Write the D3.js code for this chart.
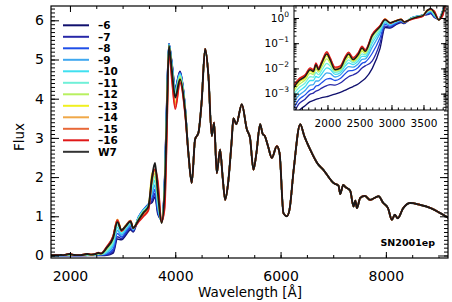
<!DOCTYPE html>
<html>
<head>
<meta charset="utf-8">
<script src="https://cdn.jsdelivr.net/npm/d3@7"></script>
<style>
body{margin:0;background:#fff;}
text{font-family:"DejaVu Sans",sans-serif;fill:#000;}
</style>
</head>
<body>
<svg id="chart" width="452" height="302"></svg>
<script>
// model names, legend text and colours
var models = ["-6","-7","-8","-9","-10","-11","-12","-13","-14","-15","-16","W7"];
var legendText = ["\u20136","\u20137","\u20138","\u20139","\u201310","\u201311","\u201312","\u201313","\u201314","\u201315","\u201316","W7"];
var colors = ["#10106e","#2828a8","#1f4fe8","#3fa8f0","#40e0f0","#70f0d8","#b8f060","#f0f020","#f0a848","#e86838","#e01818","#1a1a1a"];

// UV part, log10 flux
var uvWave = [1450,1550,1650,1730,1780,1820,1860,1910,1990,2040,2120,2200,2280,2330,2400,2480,2540,2590];
var uvM6  = [-4.20,-3.70,-3.48,-3.32,-3.27,-3.23,-3.20,-3.16,-3.12,-3.08,-3.02,-2.95,-2.86,-2.80,-2.72,-2.62,-2.50,-2.40];
var uvM7  = [-3.95,-3.42,-3.22,-3.02,-2.98,-2.90,-2.86,-2.78,-2.68,-2.64,-2.66,-2.58,-2.42,-2.33,-2.26,-2.14,-1.98,-1.90];
var uvM8  = [-3.70,-3.25,-3.05,-2.86,-2.82,-2.70,-2.67,-2.57,-2.42,-2.40,-2.48,-2.40,-2.20,-2.10,-2.08,-1.96,-1.80,-1.75];
var uvM9  = [-3.45,-3.08,-2.88,-2.66,-2.64,-2.50,-2.50,-2.38,-2.18,-2.20,-2.34,-2.26,-2.03,-1.93,-1.95,-1.82,-1.64,-1.62];
var uvM10 = [-3.25,-2.92,-2.72,-2.48,-2.48,-2.32,-2.36,-2.22,-1.98,-2.03,-2.24,-2.17,-1.90,-1.78,-1.85,-1.71,-1.52,-1.53];
var uvM11 = [-3.10,-2.78,-2.58,-2.33,-2.35,-2.16,-2.25,-2.08,-1.80,-1.90,-2.16,-2.10,-1.80,-1.66,-1.78,-1.63,-1.42,-1.46];
var uvM12 = [-2.98,-2.65,-2.46,-2.20,-2.24,-2.02,-2.15,-1.95,-1.62,-1.78,-2.10,-2.05,-1.70,-1.55,-1.72,-1.56,-1.32,-1.40];
var uvM13 = [-2.90,-2.56,-2.38,-2.12,-2.17,-1.93,-2.09,-1.86,-1.50,-1.70,-2.06,-2.01,-1.63,-1.48,-1.68,-1.50,-1.25,-1.35];
var uvM14 = [-2.82,-2.48,-2.31,-2.04,-2.10,-1.84,-2.03,-1.78,-1.40,-1.62,-2.01,-1.96,-1.57,-1.41,-1.63,-1.43,-1.18,-1.30];
var uvM15 = [-2.78,-2.45,-2.28,-2.01,-2.08,-1.81,-2.00,-1.75,-1.37,-1.59,-1.98,-1.93,-1.54,-1.38,-1.60,-1.40,-1.15,-1.28];
var uvM16 = [-2.75,-2.42,-2.25,-1.98,-2.05,-1.78,-1.97,-1.72,-1.34,-1.56,-1.95,-1.90,-1.51,-1.35,-1.57,-1.37,-1.12,-1.25];
var uvW7  = [-2.85,-2.50,-2.32,-2.05,-2.12,-1.85,-2.05,-1.79,-1.43,-1.65,-2.05,-1.99,-1.59,-1.43,-1.65,-1.45,-1.19,-1.32];

// near-UV / blue part, flux
var visWave = [2700,2820,2900,2980,3060,3150,3200,3300,3400,3490,3560,3615,3670,3740,3800,3840,3880,3933,4000,4090,4190];
var visM6  = [0.01,0.06,0.42,0.40,0.52,0.66,0.60,0.95,1.15,1.30,1.35,1.50,1.05,0.92,2.00,4.00,5.40,4.95,4.30,4.70,3.75];
var visM7  = [0.02,0.10,0.48,0.43,0.56,0.70,0.62,0.97,1.17,1.31,1.40,1.58,1.10,0.91,1.98,3.95,5.40,4.93,4.28,4.68,3.74];
var visM8  = [0.04,0.16,0.56,0.47,0.60,0.74,0.64,0.98,1.18,1.31,1.48,1.68,1.15,0.90,1.95,3.90,5.40,4.92,4.25,4.66,3.73];
var visM9  = [0.07,0.24,0.64,0.52,0.65,0.78,0.66,0.97,1.17,1.30,1.58,1.80,1.22,0.88,1.92,3.85,5.39,4.90,4.22,4.64,3.72];
var visM10 = [0.10,0.30,0.72,0.56,0.69,0.82,0.68,0.96,1.16,1.29,1.68,1.92,1.30,0.87,1.88,3.80,5.38,4.88,4.18,4.62,3.71];
var visM11 = [0.13,0.36,0.79,0.60,0.72,0.85,0.69,0.94,1.14,1.28,1.78,2.02,1.40,0.86,1.84,3.75,5.37,4.85,4.13,4.60,3.70];
var visM12 = [0.17,0.42,0.86,0.63,0.75,0.87,0.70,0.92,1.12,1.26,1.88,2.10,1.50,0.85,1.78,3.65,5.35,4.80,4.05,4.56,3.68];
var visM13 = [0.20,0.47,0.92,0.65,0.77,0.88,0.71,0.90,1.09,1.23,2.10,2.15,1.62,0.84,1.65,3.50,5.33,4.72,3.90,4.50,3.64];
var visM14 = [0.21,0.48,0.92,0.65,0.77,0.89,0.71,0.88,1.06,1.20,2.05,2.18,1.72,0.84,1.50,3.35,5.30,4.65,3.85,4.46,3.61];
var visM15 = [0.22,0.49,0.91,0.64,0.76,0.89,0.70,0.87,1.03,1.17,2.00,2.20,1.82,0.85,1.35,3.15,5.25,4.58,3.78,4.42,3.58];
var visM16 = [0.23,0.50,0.90,0.62,0.75,0.88,0.70,0.85,1.00,1.15,1.95,2.20,1.90,0.86,1.20,3.00,5.20,4.50,3.73,4.40,3.55];
var visW7  = [0.20,0.45,0.85,0.65,0.75,0.87,0.70,0.90,1.10,1.25,2.00,2.36,1.60,0.83,1.70,3.60,5.35,4.76,4.03,4.50,3.65];

// red part, same for all models
var tailWave = [4250,4313,4376,4440,4500,4567,4630,4693,4738,4789,4851,4900,4947,5000,5070,5104,5160,5264,5359,5420,
  5485,5540,5612,5660,5700,5760,5834,5929,5980,6055,6119,6170,6250,6373,6450,6563,6700,6810,7006,7101,
  7133,7190,7228,7323,7386,7420,7450,7513,7600,7700,7861,7950,8040,8114,8170,8224,8330,8464,8654,8850,9034,9200];
var tailFlux = [2.6,1.85,2.96,3.13,3.9,5.27,4.58,3.05,3.39,2.1,2.7,2.0,1.42,1.8,2.9,3.5,3.35,3.86,3.22,3.0,
  2.19,2.6,3.35,3.1,3.05,2.8,2.49,2.79,2.62,1.08,1.0,1.17,2.2,3.35,3.05,2.7,2.35,2.19,1.85,1.78,
  1.57,1.8,1.75,1.65,1.25,1.4,1.21,1.47,1.52,1.42,1.51,1.34,1.21,0.91,1.04,0.95,1.21,1.34,1.29,1.21,1.08,0.95];

var xTicks = [2000,4000,6000,8000];
var yTicks = [0,1,2,3,4,5,6];
var insetXTicks = [2000,2500,3000,3500];
var insetYTicks = [0,-1,-2,-3];

var uvRows = [uvM6,uvM7,uvM8,uvM9,uvM10,uvM11,uvM12,uvM13,uvM14,uvM15,uvM16,uvW7];
var visRows = [visM6,visM7,visM8,visM9,visM10,visM11,visM12,visM13,visM14,visM15,visM16,visW7];

var series = models.map(function(m, k){
    var pts = [];
    uvWave.forEach(function(w, i){ pts.push([w, Math.pow(10, uvRows[k][i])]); });
    visWave.forEach(function(w, i){ pts.push([w, visRows[k][i]]); });
    tailWave.forEach(function(w, i){ pts.push([w, tailFlux[i]]); });
    return pts;
});

var svg = d3.select("#chart");
var L = 51, R = 448, T = 6, B = 258;

var x = d3.scaleLinear().domain([1640, 9180]).range([L, R]);
var y = d3.scaleLinear().domain([-0.064, 6.365]).range([B, T]);

svg.append("clipPath").attr("id","clipMain").append("rect")
    .attr("x", L).attr("y", T).attr("width", R-L).attr("height", B-T);

var line = d3.line().curve(d3.curveMonotoneX)
    .x(function(d){ return x(d[0]); })
    .y(function(d){ return y(d[1]); });

// W7 is drawn last and a bit wider, so it sits on top
svg.append("g").attr("clip-path","url(#clipMain)")
    .selectAll("path").data(series).enter().append("path")
    .attr("d", line)
    .attr("fill","none")
    .attr("stroke", function(d,i){ return colors[i]; })
    .attr("stroke-width", function(d,i){ return i == 11 ? 1.9 : 1.6; })
    .attr("stroke-linejoin","round");

// axes, ticks pointing inward on all four sides
function styleAxis(g){
    g.select(".domain").remove();
    g.selectAll(".tick line").attr("stroke","#000").attr("stroke-width",1);
}

svg.append("g").attr("transform","translate(0,"+B+")")
    .call(d3.axisBottom(x).tickValues(d3.range(2000, 9200, 500)).tickSize(-3).tickFormat(""))
    .call(styleAxis);
svg.append("g").attr("transform","translate(0,"+B+")")
    .call(d3.axisBottom(x).tickValues(xTicks).tickSize(-6).tickPadding(13).tickFormat(d3.format("d")))
    .call(styleAxis)
    .selectAll("text").attr("font-size", 14);
svg.append("g").attr("transform","translate(0,"+T+")")
    .call(d3.axisTop(x).tickValues(d3.range(2000, 9200, 500)).tickSize(-3).tickFormat(""))
    .call(styleAxis);
svg.append("g").attr("transform","translate(0,"+T+")")
    .call(d3.axisTop(x).tickValues(xTicks).tickSize(-6).tickFormat(""))
    .call(styleAxis);

var yMinor = d3.range(0, 64).map(function(i){ return i/10; });
svg.append("g").attr("transform","translate("+L+",0)")
    .call(d3.axisLeft(y).tickValues(yMinor).tickSize(-4).tickFormat(""))
    .call(styleAxis);
svg.append("g").attr("transform","translate("+L+",0)")
    .call(d3.axisLeft(y).tickValues(yTicks).tickSize(-8).tickPadding(7).tickFormat(d3.format("d")))
    .call(styleAxis)
    .selectAll("text").attr("font-size", 14);
svg.append("g").attr("transform","translate("+R+",0)")
    .call(d3.axisRight(y).tickValues(yMinor).tickSize(-4).tickFormat(""))
    .call(styleAxis);
svg.append("g").attr("transform","translate("+R+",0)")
    .call(d3.axisRight(y).tickValues(yTicks).tickSize(-8).tickFormat(""))
    .call(styleAxis);

svg.append("rect").attr("x", L).attr("y", T).attr("width", R-L).attr("height", B-T)
    .attr("fill","none").attr("stroke","#000").attr("stroke-width",1.2);

svg.append("text").attr("x", 250).attr("y", 297).attr("text-anchor","middle")
    .attr("font-size", 13.5).text("Wavelength [\u00c5]");
svg.append("text").attr("transform","translate(24,137) rotate(-90)").attr("text-anchor","middle")
    .attr("font-size", 13.5).text("Flux");

svg.append("text").attr("x", 435).attr("y", 246).attr("text-anchor","end")
    .attr("font-size", 9.5).attr("font-weight","bold").text("SN2001ep");

// legend
var leg = svg.append("g");
models.forEach(function(m, i){
    var ly = 25.3 + i*11.5;
    leg.append("line").attr("x1", 63).attr("x2", 89).attr("y1", ly).attr("y2", ly)
        .attr("stroke", i == 11 ? "#333" : colors[i]).attr("stroke-width", 2);
    leg.append("text").attr("x", 98).attr("y", ly).attr("dy","0.36em")
        .attr("font-size", 10.5).attr("font-weight","bold").text(legendText[i]);
});

// inset, log flux in the UV
var iL = 294, iR = 446, iT = 6, iB = 110;
var xi = d3.scaleLinear().domain([1477, 3852]).range([iL, iR]);
var yi = d3.scaleLog().domain([Math.pow(10,-3.65), Math.pow(10,0.476)]).range([iB, iT]);

svg.append("rect").attr("x", iL).attr("y", iT).attr("width", iR-iL).attr("height", iB-iT).attr("fill","#fff");
svg.append("clipPath").attr("id","clipInset").append("rect")
    .attr("x", iL).attr("y", iT).attr("width", iR-iL).attr("height", iB-iT);

var lineInset = d3.line().curve(d3.curveMonotoneX)
    .x(function(d){ return xi(d[0]); })
    .y(function(d){ return yi(d[1]); });

svg.append("g").attr("clip-path","url(#clipInset)")
    .selectAll("path").data(series).enter().append("path")
    .attr("d", lineInset)
    .attr("fill","none")
    .attr("stroke", function(d,i){ return colors[i]; })
    .attr("stroke-width", function(d,i){ return i == 11 ? 1.5 : 1.3; })
    .attr("stroke-linejoin","round");

var iMinorX = d3.range(1500, 3900, 100);
svg.append("g").attr("transform","translate(0,"+iB+")")
    .call(d3.axisBottom(xi).tickValues(iMinorX).tickSize(-2.5).tickFormat(""))
    .call(styleAxis);
svg.append("g").attr("transform","translate(0,"+iB+")")
    .call(d3.axisBottom(xi).tickValues(insetXTicks).tickSize(-5).tickPadding(9.5).tickFormat(d3.format("d")))
    .call(styleAxis)
    .selectAll("text").attr("font-size", 10.5);
svg.append("g").attr("transform","translate(0,"+iT+")")
    .call(d3.axisTop(xi).tickValues(iMinorX).tickSize(-2.5).tickFormat(""))
    .call(styleAxis);
svg.append("g").attr("transform","translate(0,"+iT+")")
    .call(d3.axisTop(xi).tickValues(insetXTicks).tickSize(-5).tickFormat(""))
    .call(styleAxis);

var iMinorY = [];
[-4,-3,-2,-1,0].forEach(function(e){
    for (var k = 1; k < 10; k++) iMinorY.push(k*Math.pow(10, e));
});
iMinorY = iMinorY.filter(function(v){ return v > yi.domain()[0] && v < yi.domain()[1]; });
var iMajorY = insetYTicks.map(function(e){ return Math.pow(10, e); });

svg.append("g").attr("transform","translate("+iL+",0)")
    .call(d3.axisLeft(yi).tickValues(iMinorY).tickSize(-2.5).tickFormat(""))
    .call(styleAxis);
svg.append("g").attr("transform","translate("+iL+",0)")
    .call(d3.axisLeft(yi).tickValues(iMajorY).tickSize(-5).tickFormat(""))
    .call(styleAxis);
svg.append("g").attr("transform","translate("+iR+",0)")
    .call(d3.axisRight(yi).tickValues(iMinorY).tickSize(-2.5).tickFormat(""))
    .call(styleAxis);
svg.append("g").attr("transform","translate("+iR+",0)")
    .call(d3.axisRight(yi).tickValues(iMajorY).tickSize(-5).tickFormat(""))
    .call(styleAxis);

insetYTicks.forEach(function(e){
    var t = svg.append("text").attr("x", iL-5).attr("y", yi(Math.pow(10, e))).attr("dy","0.36em")
        .attr("text-anchor","end").attr("font-size", 10.5);
    t.append("tspan").text("10");
    t.append("tspan").attr("dy", -5).attr("font-size", 7.5).text(e === 0 ? "0" : "\u2212" + (-e));
});

svg.append("rect").attr("x", iL).attr("y", iT).attr("width", iR-iL).attr("height", iB-iT)
    .attr("fill","none").attr("stroke","#000").attr("stroke-width",1);
</script>
</body>
</html>
